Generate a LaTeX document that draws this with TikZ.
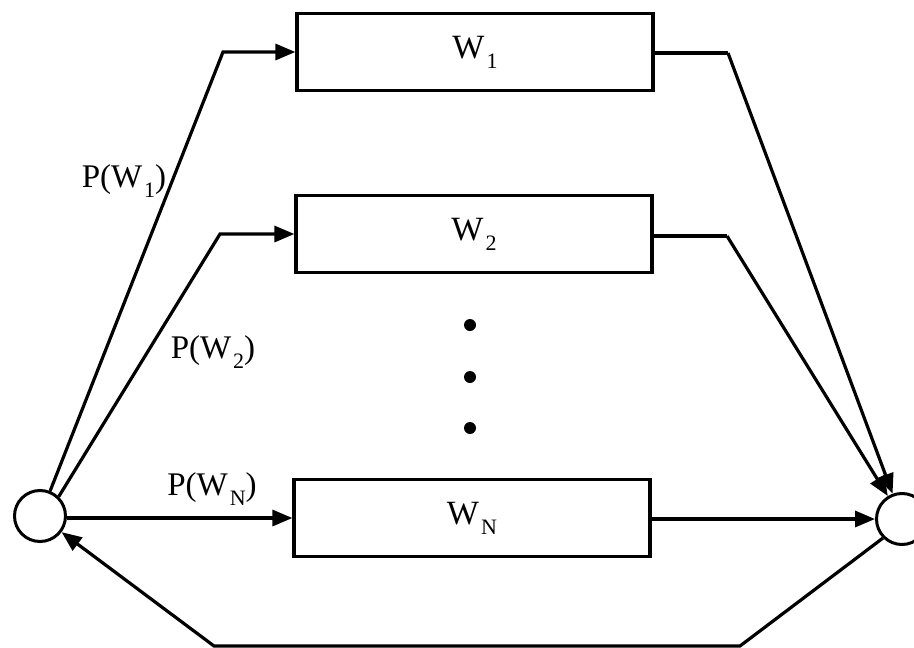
\documentclass[tikz,border=0pt]{standalone}
\usepackage{fontspec}
\setmainfont{Liberation Serif}
\usetikzlibrary{arrows.meta}
\newcommand{\sbx}[1]{\kern0.06em\raisebox{-0.3em}{\fontsize{22}{22}\selectfont #1}}
\begin{document}
\begin{tikzpicture}[x=1pt,y=-1pt,
  wire/.style={line width=3.2pt,line join=miter},
  arr/.style={wire,-{Triangle[length=20pt,width=16pt]}},
  wbox/.style={draw,line width=3.2pt,minimum width=356pt,minimum height=77pt,inner sep=0pt,font=\fontsize{34}{34}\selectfont},
  junc/.style={circle,draw,line width=3pt,minimum size=51pt,inner sep=0pt,fill=white},
  lab/.style={font=\fontsize{33}{33}\selectfont,inner sep=0pt},
  dotn/.style={circle,fill=black,minimum size=12pt,inner sep=0pt}]
\useasboundingbox (0,0) rectangle (914,648);
\clip (0,0) rectangle (914,648);
\node[wbox] (w1) at (475,52) {W\sbx{1}};
\node[wbox] (w2) at (474,234) {W\sbx{2}};
\node[wbox] (wn) at (472,518) {W\sbx{N}};
\node[junc] (lc) at (40,516) {};
\node[junc] (rc) at (902,519) {};
\node[dotn] (d1) at (470,325) {};
\node[dotn] (d2) at (470,377) {};
\node[dotn] (d3) at (470,428) {};
\coordinate (a1) at (223,52);
\coordinate (a2) at (220,234);
\coordinate (b1) at (728,53);
\coordinate (b2) at (727,236);
\coordinate (c1) at (740,646);
\coordinate (c2) at (214,646);
\draw[arr] (lc.68) -- (a1) -- (w1.west);
\draw[arr] (lc.46) -- (a2) -- (w2.west);
\draw[arr] (lc.east |- wn.west) -- (wn.west);
\draw[wire] (w1.east |- b1) -- (b1);
\draw[arr] (b1) -- (rc);
\draw[wire] (w2.east |- b2) -- (b2);
\draw[arr] (b2) -- (rc);
\draw[arr] (wn.east |- rc.west) -- (rc.west);
\draw[arr] (rc.225) -- (c1) -- (c2) -- (lc);
\node[lab] (p1) at (124,181) {P(W\sbx{1})};
\node[lab] (p2) at (213,352) {P(W\sbx{2})};
\node[lab] (pn) at (212,489) {P(W\sbx{N})};
\end{tikzpicture}
\end{document}
